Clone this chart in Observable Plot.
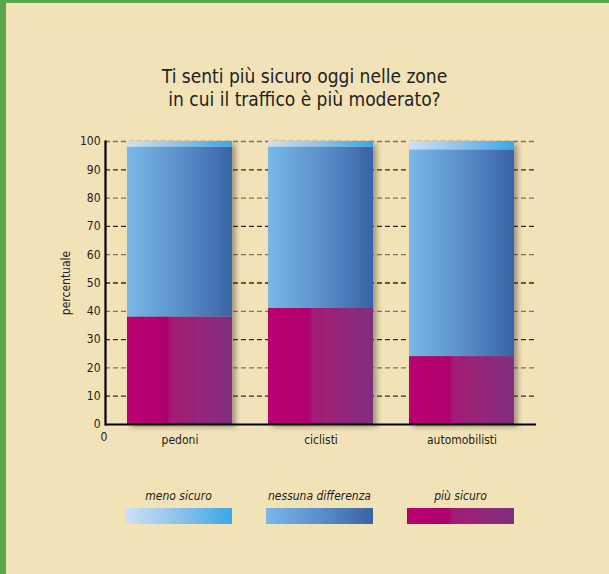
<!DOCTYPE html>
<html>
<head>
<meta charset="utf-8">
<script src="https://cdn.jsdelivr.net/npm/d3@7"></script>
<script src="https://cdn.jsdelivr.net/npm/@observablehq/plot@0.6"></script>
<style>
  body { margin: 0; background: #f2e2b8; }
  #frame {
    position: relative; width: 609px; height: 574px; overflow: hidden;
    background: #f2e2b8; color: #222;
    font-family: "DejaVu Sans Condensed", "Liberation Sans Narrow", sans-serif;
  }
  #edge-top { position: absolute; left: 0; top: 0; width: 609px; height: 3px; background: #5aa64a; }
  #edge-left { position: absolute; left: 0; top: 0; width: 6px; height: 574px; background: #5aa64a; }
  #title {
    position: absolute; left: 0; top: 65px; width: 609px;
    text-align: center; font-size: 19px; line-height: 23px;
  }
  #chart { position: absolute; left: 0; top: 120px; }
  #legend { position: absolute; left: 125px; top: 488px; display: flex; gap: 34px; }
  .item { width: 107px; text-align: center; }
  .item span { display: block; font-style: italic; font-size: 12px; line-height: 16px; height: 20px; white-space: nowrap; }
  .item i { display: block; height: 16px; }
</style>
</head>
<body>
<div id="frame">
  <div id="edge-top"></div>
  <div id="edge-left"></div>
  <div id="title">Ti senti più sicuro oggi nelle zone<br>in cui il traffico è più moderato?</div>
  <div id="chart"></div>
  <div id="legend"></div>
</div>
<script>
// Survey answers (percent) per group of road users
const groups = ["pedoni", "ciclisti", "automobilisti"];
const series = ["più sicuro", "nessuna differenza", "meno sicuro"];
const piuSicuro = [38, 41, 24];
const nessunaDifferenza = [60, 57, 73];
const menoSicuro = [2, 2, 3];
const yTicks = [0, 10, 20, 30, 40, 50, 60, 70, 80, 90, 100];
const yTitle = "percentuale";
const legendOrder = ["meno sicuro", "nessuna differenza", "più sicuro"];

// Horizontal gradients for each answer
const gradients = {
  "più sicuro": { id: "g-piu", stops: [[0, "#bb0070"], [0.38, "#ae0070"], [0.42, "#a31b73"], [0.7, "#942679"], [1, "#7f2f7d"]] },
  "nessuna differenza": { id: "g-nessuna", stops: [[0, "#79b8e7"], [0.5, "#5a90cb"], [1, "#3a62a6"]] },
  "meno sicuro": { id: "g-meno", stops: [[0, "#cfe1f5"], [0.5, "#8cc2ea"], [1, "#3ba7e5"]] }
};

const values = [piuSicuro, nessunaDifferenza, menoSicuro];
const rows = [];
groups.forEach((g, i) => series.forEach((s, j) => rows.push({ group: g, series: s, value: values[j][i] })));

const font = '"DejaVu Sans Condensed", "Liberation Sans Narrow", sans-serif';

const chart = Plot.plot({
  width: 609,
  height: 334,
  marginLeft: 105,
  marginRight: 73,
  marginTop: 21,
  marginBottom: 30,
  style: { background: "transparent", fontFamily: font, fontSize: "12px", color: "#222" },
  x: { domain: groups, paddingInner: 0.254, paddingOuter: 0.145, label: null },
  y: { domain: [0, 100], label: null },
  color: { domain: series, range: series.map(s => `url(#${gradients[s].id})`) },
  marks: [
    Plot.ruleY(yTicks.filter(t => t > 0 && t % 20 === 0), { stroke: "#7d7668", strokeWidth: 1.3, strokeDasharray: "5,3" }),
    Plot.ruleY(yTicks.filter(t => t % 20 === 10), { stroke: "#2a2a2a", strokeWidth: 1.3, strokeDasharray: "5,3" }),
    Plot.barY(rows, { x: "group", y: "value", fill: "series" }),
    Plot.ruleY([0], { stroke: "#000", strokeWidth: 2.2 }),
    Plot.frame({ anchor: "left", stroke: "#000", strokeWidth: 2.2 }),
    Plot.axisY(yTicks, { tickSize: 0, tickPadding: 5, fontSize: 12, label: null }),
    Plot.axisX({ tickSize: 0, tickPadding: 11, fontSize: 12, label: null }),
    Plot.text(["0"], { frameAnchor: "bottom-left", text: d => d, dx: -5, dy: 16, fontSize: 12 }),
    Plot.text([yTitle], { frameAnchor: "left", textAnchor: "middle", text: d => d, rotate: -90, dx: -39, fontSize: 12 })
  ]
});

// Gradient and shadow definitions used by the bars
const svg = d3.select(chart);
const defs = svg.insert("defs", ":first-child");
for (const s of series) {
  const lg = defs.append("linearGradient").attr("id", gradients[s].id).attr("x1", 0).attr("x2", 1).attr("y1", 0).attr("y2", 0);
  for (const [o, c] of gradients[s].stops) lg.append("stop").attr("offset", o).attr("stop-color", c);
}
const f = defs.append("filter").attr("id", "bar-shadow").attr("x", "-10%").attr("y", "-10%").attr("width", "130%").attr("height", "120%");
f.append("feDropShadow").attr("dx", 4).attr("dy", 3).attr("stdDeviation", 2.5).attr("flood-color", "#3a3020").attr("flood-opacity", 0.4);
svg.selectAll('g[aria-label="bar"]').attr("filter", "url(#bar-shadow)");

document.getElementById("chart").appendChild(chart);

// Legend with the same gradients
const legend = d3.select("#legend");
for (const s of legendOrder) {
  const item = legend.append("div").attr("class", "item");
  item.append("span").text(s);
  const stops = gradients[s].stops.map(([o, c]) => `${c} ${o * 100}%`).join(", ");
  item.append("i").style("background", `linear-gradient(to right, ${stops})`);
}
</script>
</body>
</html>
